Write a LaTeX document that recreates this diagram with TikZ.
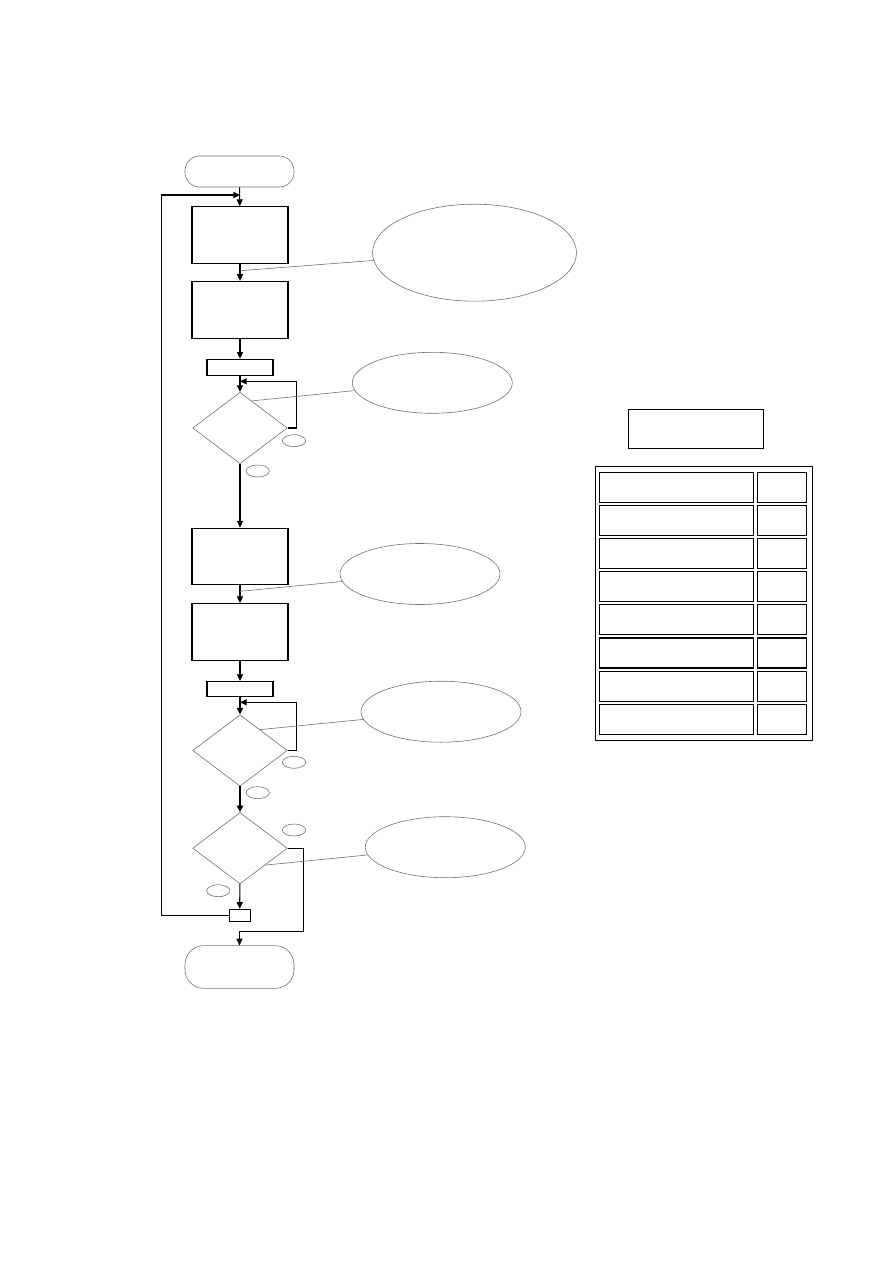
\documentclass[tikz,border=0pt]{standalone}
\usetikzlibrary{shapes.geometric,arrows.meta,calc}
\begin{document}
\begin{tikzpicture}[x=0.75pt,y=-0.75pt,
  blk/.style={draw=black,line width=0.8pt,rectangle,inner sep=0pt},
  box/.style={blk,minimum width=72pt,minimum height=42.5pt},
  gr/.style={draw=black!55,line width=0.45pt},
  term/.style={gr,rectangle,inner sep=0pt,minimum width=81.75pt},
  dia/.style={gr,diamond,inner sep=0pt,minimum width=71pt,minimum height=53.5pt},
  lab/.style={gr,ellipse,inner sep=0pt,minimum width=17.5pt,minimum height=9pt},
  call/.style={gr,ellipse,inner sep=0pt,minimum width=120pt,minimum height=45.75pt},
  arr/.style={draw=black,line width=0.8pt,-{Triangle[length=5pt,width=4.6pt]}},
  ln/.style={draw=black,line width=0.8pt}]
\useasboundingbox (0,0) rectangle (893,1263);
\fill[white] (0,0) rectangle (893,1263);

% flowchart nodes
\node[term,minimum height=23.25pt,rounded corners=11pt] (start) at (239.5,171.5) {};
\node[box] (b1) at (240,235) {};
\node[box] (b2) at (240,309.7) {};
\node[blk,minimum width=49.5pt,minimum height=12pt] (r1) at (240,367.3) {};
\node[dia] (d1) at (240,428) {};
\node[lab] (y1a) at (294,440.7) {};
\node[lab] (y1b) at (257.7,471) {};
\node[box] (b3) at (240,556.5) {};
\node[box] (b4) at (240,631.8) {};
\node[blk,minimum width=49.5pt,minimum height=11.25pt] (r2) at (240,689) {};
\node[dia] (d2) at (240,750.5) {};
\node[lab] (y2a) at (294,762.3) {};
\node[lab] (y2b) at (257.7,792.7) {};
\node[dia] (d3) at (240,848.2) {};
\node[lab] (y3a) at (294,830) {};
\node[lab] (y3b) at (218.3,890.7) {};
\node[blk,minimum width=15.5pt,minimum height=9pt] (r3) at (239.7,915.3) {};
\node[term,minimum height=32pt,rounded corners=14pt] (endn) at (239.5,967) {};

% callout ellipses
\node[gr,ellipse,inner sep=0pt,minimum width=153pt,minimum height=72.75pt] (e1) at (474.5,252.7) {};
\node[call] (e2) at (432.3,382.8) {};
\node[call] (e3) at (420,574) {};
\node[call] (e4) at (441,711.7) {};
\node[call] (e5) at (445.3,847.2) {};

% main flow
\draw[arr] (start) -- (b1);
\draw[arr] (b1) -- (b2);
\draw[arr] (b2) -- (r1);
\draw[arr] (r1) -- (d1);
\draw[arr] (d1) -- (b3);
\draw[arr] (b3) -- (b4);
\draw[arr] (b4) -- (r2);
\draw[arr] (r2) -- (d2);
\draw[arr] (d2) -- (d3);
\draw[arr] (d3) -- (r3);

% loops
\coordinate (l1) at (296.7,381.3);
\draw[arr] (d1.east) -| (l1) -- (l1 -| d1.north);
\coordinate (l2) at (296.7,702.3);
\draw[arr] (d2.east) -| (l2) -- (l2 -| d2.north);
\coordinate (x1) at (303.3,931.7);
\draw[arr] (d3.east) -| (x1) -- (x1 -| endn.north) -- (endn.north);
\coordinate (bl) at (161.7,195);
\draw[arr] (r3.west) -| (bl) -- (bl -| b1.north);

% callout lines
\coordinate (k1) at (240,270.7);
\coordinate (k2) at ($(d1.north)!0.247!(d1.east)$);
\coordinate (k3) at (240,591.3);
\coordinate (k4) at ($(d2.north)!0.42!(d2.east)$);
\coordinate (k5) at ($(d3.east)!0.47!(d3.south)$);
\draw[gr] (k1) -- (e1);
\draw[gr] (k2) -- (e2);
\draw[gr] (k3) -- (e3);
\draw[gr] (k4) -- (e4);
\draw[gr] (k5) -- (e5);

% table
\node[blk,minimum width=101.5pt,minimum height=29.25pt] (tt) at (696,428.8) {};
\node[blk,minimum width=162.75pt,minimum height=205.5pt] (tb) at (703.8,603.3) {};
\foreach \i in {0,...,7}{
  \node[blk,minimum width=115.5pt,minimum height=22.5pt] (tl\i) at (676.3,{487.3+\i*33.14}) {};
  \node[blk,minimum width=37pt,minimum height=22.5pt] (tr\i) at (782,{487.3+\i*33.14}) {};
}
\end{tikzpicture}
\end{document}
